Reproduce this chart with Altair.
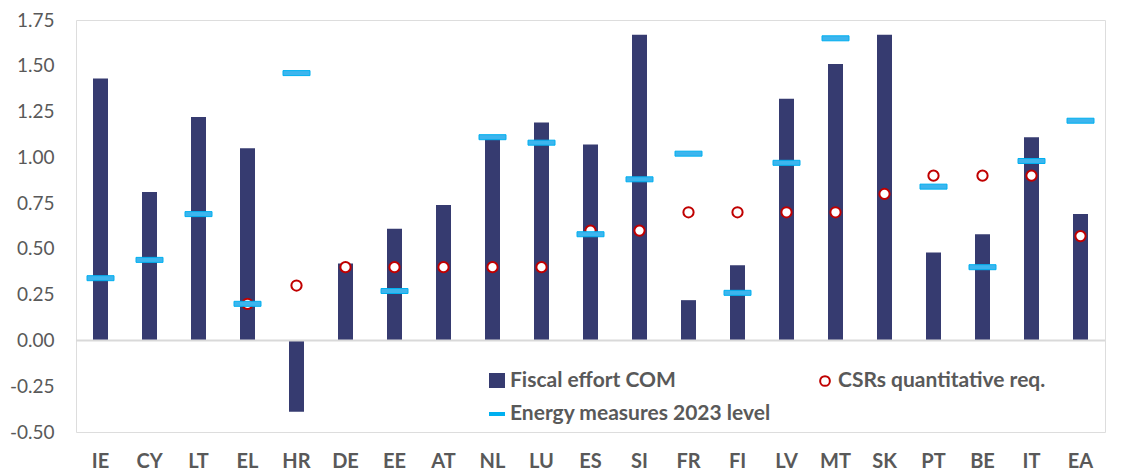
import altair as alt
import pandas as pd

countries = ["IE", "CY", "LT", "EL", "HR", "DE", "EE", "AT", "NL", "LU", "ES",
             "SI", "FR", "FI", "LV", "MT", "SK", "PT", "BE", "IT", "EA"]
fiscal_effort = [1.43, 0.81, 1.22, 1.05, -0.39, 0.42, 0.61, 0.74, 1.11, 1.19, 1.07,
                 1.67, 0.22, 0.41, 1.32, 1.51, 1.67, 0.48, 0.58, 1.11, 0.69]
energy_2023 = [0.34, 0.44, 0.69, 0.20, 1.46, None, 0.27, None, 1.11, 1.08, 0.58,
               0.88, 1.02, 0.26, 0.97, 1.65, None, 0.84, 0.40, 0.98, 1.20]
csr_req = [None, None, None, 0.20, 0.30, 0.40, 0.40, 0.40, 0.40, 0.40, 0.60,
           0.60, 0.70, 0.70, 0.70, 0.70, 0.80, 0.90, 0.90, 0.90, 0.57]
legend_labels = ["Fiscal effort COM", "CSRs quantitative req.", "Energy measures 2023 level"]
y_ticks = [-0.5, -0.25, 0, 0.25, 0.5, 0.75, 1.0, 1.25, 1.5, 1.75]

FONT = "Lato"
GREY = "#595959"
NAVY = "#363B70"
BLUE_FILL = "#3DB5EE"
BLUE_STROKE = "#00B0F0"
RED = "#C00000"

df = pd.DataFrame({"country": countries, "fiscal": fiscal_effort,
                   "energy": energy_2023, "csr": csr_req})

x_enc = alt.X("country:N", sort=countries, title=None,
              scale=alt.Scale(paddingInner=0, paddingOuter=0),
              axis=alt.Axis(labelAngle=0, labelFontWeight="bold", labelFontSize=20,
                            labelColor=GREY, labelFont=FONT, domain=False, ticks=False,
                            labelPadding=19, grid=False))
y_scale = alt.Scale(domain=[-0.5, 1.75], nice=False, zero=False)
y_axis = alt.Axis(values=y_ticks, grid=False, domain=False, ticks=False,
                  labelColor=GREY, labelFontSize=19, labelFont=FONT, labelPadding=22,
                  labelExpr="(datum.value < 0 ? '-' : '') + format(abs(datum.value), '.2f')")

base = alt.Chart(df)

bars = base.mark_bar(size=15, color=NAVY).encode(
    x=x_enc,
    y=alt.Y("fiscal:Q", scale=y_scale, axis=y_axis, title=None),
)

zero_rule = alt.Chart(pd.DataFrame({"z": [0]})).mark_rule(color="#D9D9D9", strokeWidth=2).encode(
    y=alt.Y("z:Q", scale=y_scale)
)

circles = base.transform_filter("isValid(datum.csr)").mark_point(
    shape="circle", filled=True, fill="white", stroke=RED, strokeWidth=2,
    size=105, opacity=1).encode(
    x=alt.X("country:N", sort=countries),
    y=alt.Y("csr:Q", scale=y_scale),
)

ticks = base.transform_filter("isValid(datum.energy)").mark_tick(
    size=27, thickness=5, fill=BLUE_FILL, stroke=BLUE_STROKE, strokeWidth=1,
    opacity=1).encode(
    x=alt.X("country:N", sort=countries),
    y=alt.Y("energy:Q", scale=y_scale),
)

# legend
leg_txt = dict(font=FONT, fontSize=21, fontWeight="bold", color=GREY,
               align="left", baseline="middle")
leg1_sym = alt.Chart(pd.DataFrame({"t": [legend_labels[0]]})).mark_rect(color=NAVY).encode(
    x=alt.value(413), x2=alt.value(429), y=alt.value(353), y2=alt.value(368))
leg1_txt = alt.Chart(pd.DataFrame({"t": [legend_labels[0]]})).mark_text(**leg_txt).encode(
    x=alt.value(434), y=alt.value(361), text="t:N")
leg2_sym = alt.Chart(pd.DataFrame({"t": [legend_labels[1]]})).mark_point(
    shape="circle", filled=True, fill="white", stroke=RED, strokeWidth=2, size=95,
    opacity=1).encode(x=alt.value(749), y=alt.value(361))
leg2_txt = alt.Chart(pd.DataFrame({"t": [legend_labels[1]]})).mark_text(**leg_txt).encode(
    x=alt.value(762), y=alt.value(361), text="t:N")
leg3_sym = alt.Chart(pd.DataFrame({"t": [legend_labels[2]]})).mark_rect(color=BLUE_STROKE).encode(
    x=alt.value(413), x2=alt.value(429), y=alt.value(392), y2=alt.value(396))
leg3_txt = alt.Chart(pd.DataFrame({"t": [legend_labels[2]]})).mark_text(**leg_txt).encode(
    x=alt.value(434), y=alt.value(394), text="t:N")

chart = alt.layer(
    bars, zero_rule, circles, ticks,
    leg1_sym, leg1_txt, leg2_sym, leg2_txt, leg3_sym, leg3_txt
).properties(
    width=1029, height=412,
    autosize=alt.AutoSizeParams(type="none"),
    padding={"left": 68, "top": 12, "right": 10, "bottom": 40},
).configure_view(stroke=None).configure(background="white")

chart.save("out.html", embed_options={"renderer": "svg", "actions": False})
